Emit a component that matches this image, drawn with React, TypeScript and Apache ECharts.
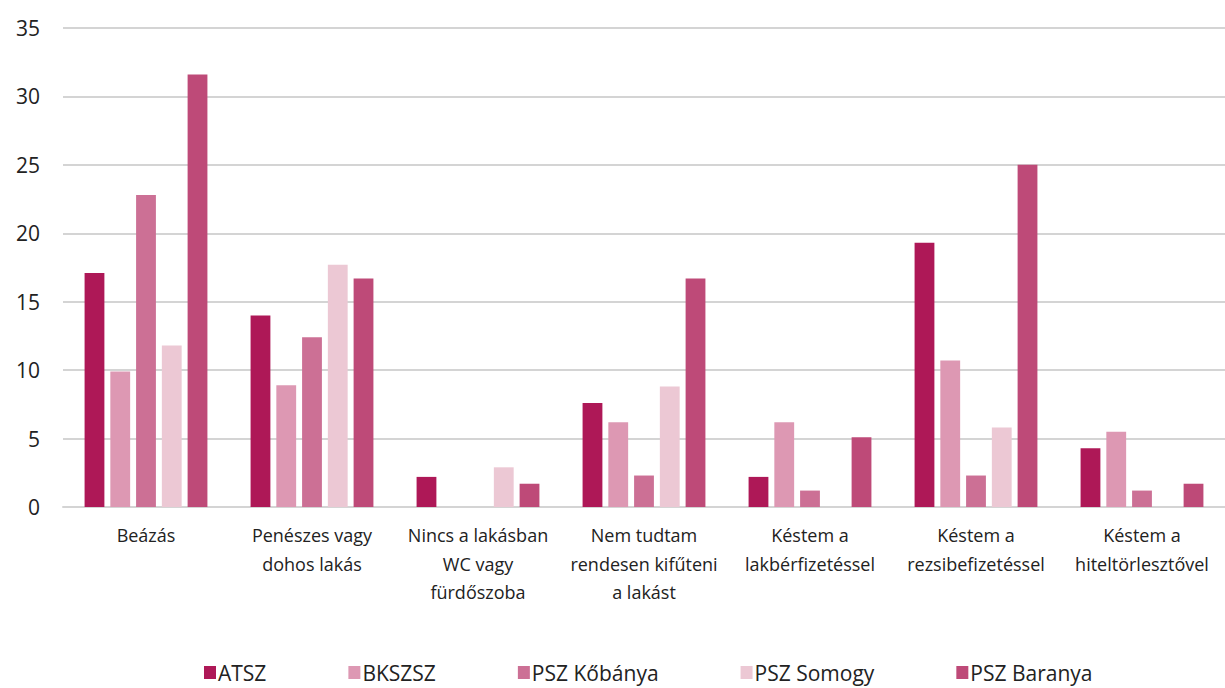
import React, { useEffect, useRef } from "react";
import * as echarts from "echarts";

const categories = [
  "Beázás",
  "Penészes vagy\ndohos lakás",
  "Nincs a lakásban\nWC vagy\nfürdőszoba",
  "Nem tudtam\nrendesen kifűteni\na lakást",
  "Késtem a\nlakbérfizetéssel",
  "Késtem a\nrezsibefizetéssel",
  "Késtem a\nhiteltörlesztővel",
];

const seriesNames = ["ATSZ", "BKSZSZ", "PSZ Kőbánya", "PSZ Somogy", "PSZ Baranya"];
const atsz = [17.1, 14.0, 2.2, 7.6, 2.2, 19.3, 4.3];
const bkszsz = [9.9, 8.9, null, 6.2, 6.2, 10.7, 5.5];
const pszKobanya = [22.8, 12.4, null, 2.3, 1.2, 2.3, 1.2];
const pszSomogy = [11.8, 17.7, 2.9, 8.8, null, 5.8, null];
const pszBaranya = [31.6, 16.7, 1.7, 16.7, 5.1, 25.0, 1.7];
const seriesValues = [atsz, bkszsz, pszKobanya, pszSomogy, pszBaranya];
const colors = ["#AE1857", "#DD98B3", "#CC7095", "#ECC8D4", "#BE4A78"];
const yTicks = [0, 5, 10, 15, 20, 25, 30, 35];

export default function App() {
  const ref = useRef<HTMLDivElement>(null);
  useEffect(() => {
    if (!ref.current) return;
    const chart = echarts.init(ref.current, null, { renderer: "svg" });
    const font = "'Open Sans', sans-serif";
    chart.setOption({
      animation: false,
      color: colors,
      textStyle: { fontFamily: font, color: "#222" },
      grid: { left: 63, right: 0, top: 28, bottom: 181, containLabel: false },
      legend: {
        data: seriesNames,
        left: 204,
        top: 662,
        padding: 0,
        itemWidth: 12,
        itemHeight: 13,
        itemGap: 82,
        icon: "rect",
        textStyle: { fontSize: 21, color: "#222", fontFamily: font, lineHeight: 21, padding: [0, 0, 0, -3] },
      },
      xAxis: {
        type: "category",
        data: categories,
        axisLine: { lineStyle: { color: "#d4d4d4", width: 2 } },
        axisTick: { show: false },
        axisLabel: {
          interval: 0,
          fontSize: 18,
          lineHeight: 28.5,
          color: "#222",
          margin: 14,
          fontFamily: font,
        },
      },
      yAxis: {
        type: "value",
        min: yTicks[0],
        max: yTicks[yTicks.length - 1],
        interval: 5,
        axisLine: { show: false },
        axisTick: { show: false },
        splitLine: { lineStyle: { color: "#d4d4d4", width: 2 } },
        axisLabel: { fontSize: 21, color: "#222", margin: 23, fontFamily: font },
      },
      series: seriesNames.map((name, i) => ({
        name,
        type: "bar",
        data: seriesValues[i],
        barCategoryGap: "26%",
        barGap: "30%",
        itemStyle: { color: colors[i] },
      })),
    });
    return () => chart.dispose();
  }, []);
  return <div ref={ref} style={{ width: 1225, height: 688, position: "absolute", left: 0, top: 0 }} />;
}
